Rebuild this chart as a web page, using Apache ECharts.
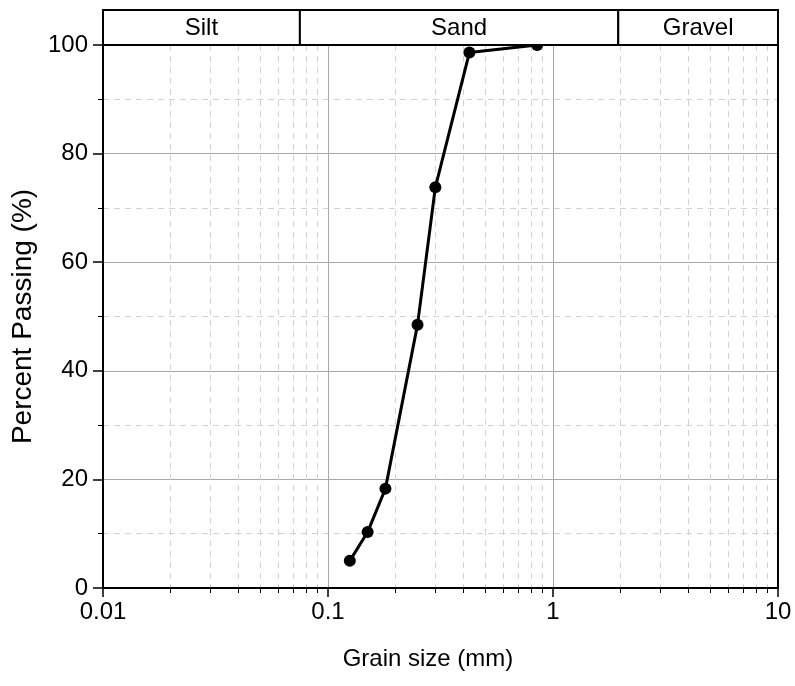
<!DOCTYPE html>
<html>
<head>
<meta charset="utf-8">
<script src="https://cdn.jsdelivr.net/npm/echarts@6/dist/echarts.min.js"></script>
<style>html,body{margin:0;padding:0;background:#fff}#c{width:795px;height:686px}</style>
</head>
<body>
<div id="c"></div>
<script>
// ---- data ----
const grainSize = [0.125, 0.15, 0.18, 0.25, 0.3, 0.425, 0.85];
const percentPassing = [5.0, 10.3, 18.3, 48.5, 73.8, 98.6, 100];
const bandNames = ['Silt', 'Sand', 'Gravel'];
const bandEdges = [0.01, 0.075, 1.95, 10];
const xTickLabels = ['0.01', '0.1', '1', '10'];
const yTicks = [0, 20, 40, 60, 80, 100];

const FONT = 'Liberation Sans, Arial, sans-serif';
const chart = echarts.init(document.getElementById('c'), null, {renderer: 'canvas'});

const lineData = grainSize.map((x, i) => [x, percentPassing[i]]);
const bandData = bandNames.map((n, i) => [bandEdges[i], bandEdges[i + 1], n]);

const option = {
  animation: false,
  backgroundColor: '#fff',
  grid: [
    {left: 103, right: 17, top: 45, bottom: 98},
    {left: 103, right: 17, top: 10, height: 35}
  ],
  xAxis: [
    {
      type: 'log', logBase: 10, min: 0.01, max: 10, gridIndex: 0,
      name: 'Grain size (mm)', nameLocation: 'middle', nameGap: 59,
      nameTextStyle: {fontSize: 24, color: '#000', fontFamily: FONT, padding: [0, 25, 0, 0]},
      axisLine: {show: true, lineStyle: {color: '#000', width: 2}},
      axisTick: {show: true, length: 9, lineStyle: {color: '#000', width: 1.5}},
      minorTick: {show: true, splitNumber: 9, length: 5, lineStyle: {color: '#000', width: 1}},
      splitLine: {show: true, lineStyle: {color: '#a8a8a8', width: 1}},
      minorSplitLine: {show: true, lineStyle: {color: '#d2d2d2', width: 1, type: [6, 5]}},
      axisLabel: {
        fontSize: 24, color: '#000', fontFamily: FONT, margin: 12,
        formatter: function (v) {
          const k = Math.round(Math.log10(v)) + 2;
          return xTickLabels[k] !== undefined ? xTickLabels[k] : '';
        }
      }
    },
    {type: 'log', logBase: 10, min: 0.01, max: 10, gridIndex: 1, show: false}
  ],
  yAxis: [
    {
      type: 'value', min: yTicks[0], max: yTicks[yTicks.length - 1], interval: 20, gridIndex: 0,
      name: 'Percent Passing (%)', nameLocation: 'middle', nameGap: 64,
      nameTextStyle: {fontSize: 28, color: '#000', fontFamily: FONT},
      axisLine: {show: true, lineStyle: {color: '#000', width: 2}},
      axisTick: {show: true, length: 10, lineStyle: {color: '#000', width: 1.5}},
      minorTick: {show: true, splitNumber: 2, length: 5, lineStyle: {color: '#000', width: 1}},
      splitLine: {show: true, lineStyle: {color: '#a8a8a8', width: 1}},
      minorSplitLine: {show: true, lineStyle: {color: '#d2d2d2', width: 1, type: [6, 5]}},
      axisLabel: {fontSize: 24, color: '#000', fontFamily: FONT, margin: 15}
    },
    {
      type: 'value', min: 0, max: 100, gridIndex: 0, position: 'right',
      axisLine: {show: true, lineStyle: {color: '#000', width: 2}},
      axisTick: {show: false}, axisLabel: {show: false}, splitLine: {show: false}
    },
    {type: 'value', min: 0, max: 1, gridIndex: 1, show: false}
  ],
  series: [
    {
      type: 'line', xAxisIndex: 0, yAxisIndex: 0, data: lineData,
      lineStyle: {color: '#000', width: 3},
      itemStyle: {color: '#000'},
      symbol: 'circle', symbolSize: 12, showSymbol: true, z: 3, clip: false
    },
    {
      type: 'custom', xAxisIndex: 1, yAxisIndex: 2, data: bandData, clip: false, z: 10,
      renderItem: function (params, api) {
        const p1 = api.coord([api.value(0), 1]);
        const p2 = api.coord([api.value(1), 0]);
        const name = bandData[params.dataIndex][2];
        return {
          type: 'group',
          children: [
            {type: 'rect', shape: {x: p1[0], y: p1[1], width: p2[0] - p1[0], height: p2[1] - p1[1]},
             style: {fill: '#fff', stroke: '#000', lineWidth: 2}},
            {type: 'text', x: (p1[0] + p2[0]) / 2, y: (p1[1] + p2[1]) / 2 + 1,
             style: {text: name, fill: '#000', fontSize: 24, fontFamily: FONT, align: 'center', verticalAlign: 'middle'}}
          ]
        };
      }
    }
  ]
};
chart.setOption(option);
</script>
</body>
</html>
